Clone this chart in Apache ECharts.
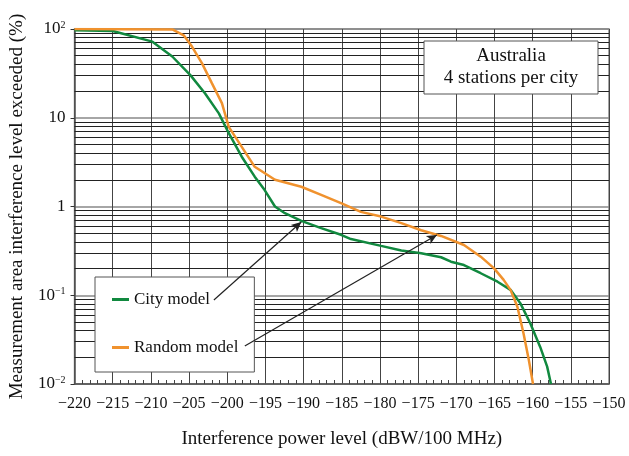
<!DOCTYPE html>
<html>
<head>
<meta charset="utf-8">
<script src="https://cdn.jsdelivr.net/npm/echarts@6/dist/echarts.min.js"></script>
<style>
  html, body { margin: 0; padding: 0; background: #fff; }
  #chart { width: 629px; height: 456px; }
</style>
</head>
<body>
<div id="chart"></div>
<script>
// curves (x in dBW/100 MHz, y in %)
const cityX = [-220, -215, -209.8, -207.2, -204.8, -202.9, -201.1, -199.8, -198.1, -196.4, -195.1, -193.75, -192.45, -190.3, -187.7, -185.1, -183.8, -179.85, -177.2, -174.6, -172.0, -170.7, -169.0, -166.8, -164.6, -162.9, -161.6, -160.3, -159.0, -158.1, -157.6];
const cityY = [97, 95, 72, 49, 30, 18.8, 11.2, 6.7, 3.64, 2.17, 1.53, 1.0, 0.84, 0.69, 0.57, 0.48, 0.43, 0.36, 0.32, 0.297, 0.268, 0.239, 0.219, 0.177, 0.142, 0.115, 0.081, 0.048, 0.026, 0.0157, 0.01];

const randomX = [-220, -207.2, -205.7, -204.6, -203.3, -202.0, -200.7, -199.8, -198.1, -196.4, -193.75, -190.3, -187.7, -185.1, -182.5, -179.85, -177.2, -174.6, -172.0, -169.0, -166.8, -165.05, -163.8, -162.9, -162.0, -161.2, -160.5, -159.95];
const randomY = [100, 99, 85, 63, 41, 24.4, 14.6, 7.9, 4.7, 2.8, 2.0, 1.67, 1.35, 1.09, 0.87, 0.77, 0.65, 0.54, 0.466, 0.368, 0.272, 0.201, 0.149, 0.115, 0.0743, 0.0373, 0.0186, 0.01];

const seriesNames = ['City model', 'Random model'];
const xMin = -220, xMax = -150, xStep = 5;
const yMin = 0.01, yMax = 100;
const decades = [0.01, 0.1, 1, 10];
const minorFactors = [2, 3, 4, 5, 6, 7, 8, 9];

// arrows: [from, to] in data units
const arrows = [
  [[-201.75, 0.0884], [-190.3, 0.67]],
  [[-197.7, 0.0268], [-172.55, 0.478]]
];

const serif = '"Liberation Serif", "DejaVu Serif", serif';
const greenC = '#11893f';
const orangeC = '#f0922e';

const zip = (xs, ys) => xs.map((x, i) => [x, ys[i]]);

// minor log grid lines (2..9 in every decade)
const minorLines = [];
decades.forEach(d => minorFactors.forEach(f => minorLines.push({ yAxis: +(d * f).toPrecision(3) })));

const chart = echarts.init(document.getElementById('chart'), null, { renderer: 'canvas' });

const supFmt = (v) => {
  const e = Math.round(Math.log10(v));
  if (e === 1) return '{b|10}';
  if (e === 0) return '{b|1}';
  const s = e < 0 ? '\u2212' + (-e) : String(e);
  return '{b|10}{s|' + s + '}';
};

const options = {
  animation: false,
  textStyle: { fontFamily: serif, color: '#111' },
  grid: {
    left: 72, right: 20, top: 29, bottom: 72,
    show: true, borderColor: '#888', borderWidth: 1.5
  },
  legend: {
    data: seriesNames,
    orient: 'vertical',
    left: 95, top: 277,
    z: 8,
    padding: [14, 16, 16, 17],
    itemGap: 31,
    itemWidth: 17, itemHeight: 3,
    itemTextGap: 5,
    icon: 'rect',
    backgroundColor: '#fff',
    borderColor: '#555',
    borderWidth: 1,
    textStyle: { fontFamily: serif, fontSize: 17, color: '#111' }
  },
  xAxis: {
    type: 'value',
    min: xMin, max: xMax, interval: xStep,
    name: 'Interference power level (dBW/100 MHz)',
    nameLocation: 'middle',
    nameGap: 46,
    nameTextStyle: { fontFamily: serif, fontSize: 19, color: '#111' },
    axisLine: { onZero: false, lineStyle: { color: '#555', width: 1.5 } },
    axisTick: { show: false, inside: true },
    minorTick: { show: true, splitNumber: 5, length: 4, lineStyle: { color: '#444' } },
    axisLabel: {
      margin: 12,
      fontFamily: serif, fontSize: 16, color: '#111',
      formatter: v => String(v).replace('-', '\u2212')
    },
    splitLine: { show: true, lineStyle: { color: '#444', width: 1 } }
  },
  yAxis: {
    type: 'log',
    logBase: 10,
    min: yMin, max: yMax,
    name: 'Measurement area interference level exceeded (%)',
    nameLocation: 'middle',
    nameGap: 47,
    nameTextStyle: { fontFamily: serif, fontSize: 19, color: '#111' },
    axisLine: { lineStyle: { color: '#555', width: 1.5 } },
    axisTick: { show: true, length: 4, lineStyle: { color: '#333' } },
    axisLabel: {
      margin: 9,
      formatter: supFmt,
      rich: {
        b: { fontFamily: serif, fontSize: 17, lineHeight: 17, color: '#111', verticalAlign: 'bottom' },
        s: { fontFamily: serif, fontSize: 10, lineHeight: 10, color: '#111', verticalAlign: 'top' }
      }
    },
    splitLine: { show: true, lineStyle: { color: '#888', width: 1.5 } }
  },
  series: [
    {
      name: 'grid-minor',
      type: 'line',
      data: [[xMin, 1]],
      symbol: 'none',
      lineStyle: { opacity: 0 },
      silent: true,
      z: 1,
      markLine: {
        z: 1,
        silent: true,
        symbol: ['none', 'none'],
        label: { show: false },
        lineStyle: { color: '#222', width: 1, type: 'solid' },
        data: minorLines
      }
    },
    {
      name: seriesNames[0],
      type: 'line',
      data: zip(cityX, cityY),
      showSymbol: false,
      symbol: 'none',
      color: greenC,
      lineStyle: { color: greenC, width: 2.5 },
      z: 3
    },
    {
      name: seriesNames[1],
      type: 'line',
      data: zip(randomX, randomY),
      showSymbol: false,
      symbol: 'none',
      color: orangeC,
      lineStyle: { color: orangeC, width: 2.5 },
      z: 3
    },
    {
      name: 'arrows',
      type: 'line',
      data: [[xMin, 1]],
      symbol: 'none',
      lineStyle: { opacity: 0 },
      silent: true,
      z: 5,
      markLine: {
        z: 9,
        silent: true,
        symbol: ['none', 'arrow'],
        symbolSize: [7, 10],
        label: { show: false },
        lineStyle: { color: '#222', width: 1.2, type: 'solid' },
        data: arrows.map(a => [{ coord: a[0] }, { coord: a[1] }])
      }
    }
  ],
  graphic: [
    {
      type: 'rect',
      z: 10,
      shape: { x: 424, y: 41, width: 174, height: 53 },
      style: { fill: '#fff', stroke: '#555', lineWidth: 1 }
    },
    {
      type: 'text',
      z: 11,
      x: 511, y: 67.5,
      style: {
        text: 'Australia\n4 stations per city',
        fontFamily: serif, fontSize: 19, lineHeight: 22,
        fill: '#111', align: 'center', verticalAlign: 'middle'
      }
    }
  ]
};

chart.setOption(options);
</script>
</body>
</html>
